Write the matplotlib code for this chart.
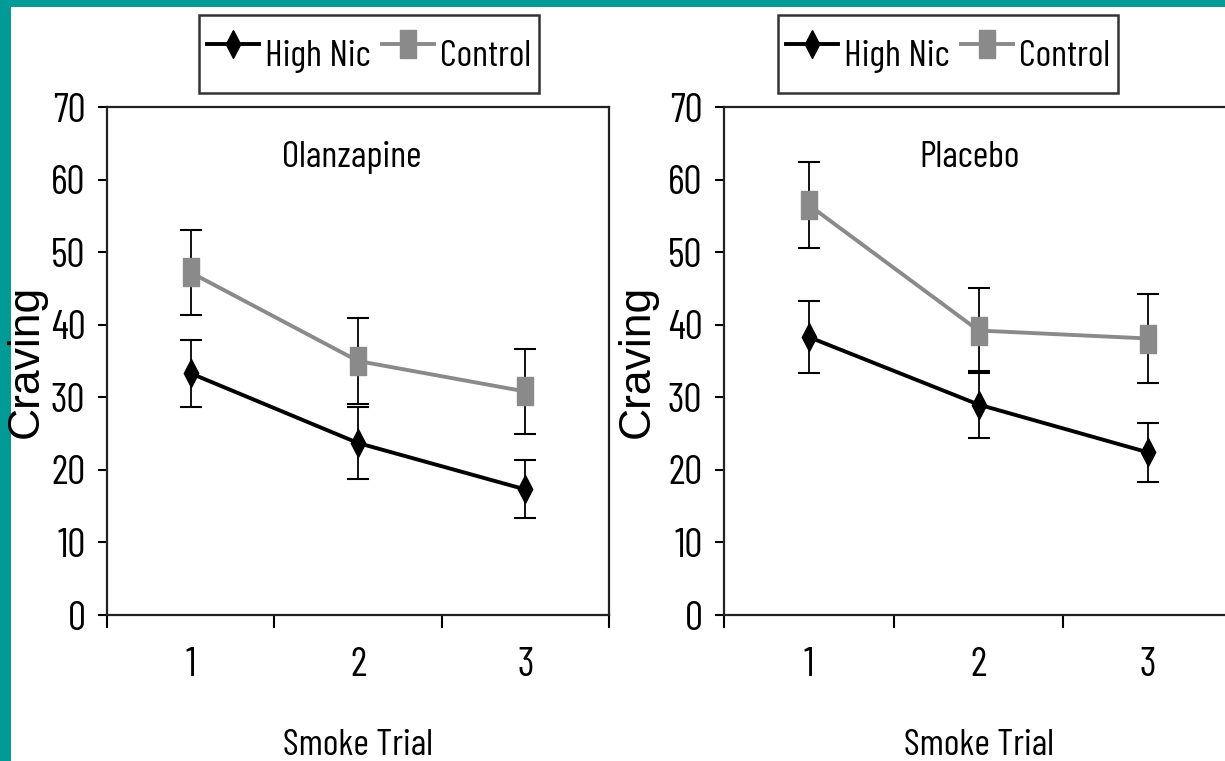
import matplotlib
matplotlib.use('Agg')
import matplotlib.pyplot as plt
from matplotlib.patches import Rectangle

trials = [1, 2, 3]

olz_high = [33.3, 23.7, 17.3]
olz_high_err = [4.6, 4.9, 4.0]
olz_ctrl = [47.2, 35.0, 30.8]
olz_ctrl_err = [5.9, 5.9, 5.9]

pla_high = [38.3, 29.0, 22.4]
pla_high_err = [5.0, 4.6, 4.1]
pla_ctrl = [56.5, 39.2, 38.1]
pla_ctrl_err = [5.9, 5.9, 6.1]

panels = ['Olanzapine', 'Placebo']
series = ['High Nic', 'Control']

# narrow font for most of the text, plain sans for the y label
plt.rcParams['font.family'] = ['Barlow Condensed', 'Liberation Sans', 'DejaVu Sans']

# tall diamond and tall square, like in the source picture
diamond = [(0, 1), (0.52, 0), (0, -1), (-0.52, 0), (0, 1)]
square = [(-0.55, -1), (0.55, -1), (0.55, 1), (-0.55, 1), (-0.55, -1)]

W, H = 1225, 761
fig = plt.figure(figsize=(W / 100, H / 100), dpi=100)
fig.patch.set_facecolor('#009b97')
fig.patches.append(Rectangle((11 / W, 0), 1, 1 - 7 / H, transform=fig.transFigure,
                             facecolor='white', edgecolor='none', zorder=-1))

boxes = [(107, 502), (724, 509)]
data = [(olz_high, olz_high_err, olz_ctrl, olz_ctrl_err),
        (pla_high, pla_high_err, pla_ctrl, pla_ctrl_err)]
title_x = [0.488, 0.483]
ylab_x = [-0.12, -0.13]
leg_x = [369, 948]

for i in range(2):
    x0, w = boxes[i]
    ax = fig.add_axes([x0 / W, (H - 615) / H, w / W, 508 / H])
    high, high_err, ctrl, ctrl_err = data[i]

    ax.errorbar(trials, ctrl, yerr=ctrl_err, fmt='none', ecolor='black',
                elinewidth=1.3, capsize=8, capthick=1.5, zorder=2)
    ax.errorbar(trials, high, yerr=high_err, fmt='none', ecolor='black',
                elinewidth=1.3, capsize=8, capthick=1.5, zorder=2)
    ax.plot(trials, ctrl, color='#8a8a8a', lw=2.8, marker=square, ms=20,
            mfc='#8a8a8a', mec='#8a8a8a', label=series[1], zorder=3)
    ax.plot(trials, high, color='black', lw=2.8, marker=diamond, ms=20,
            mfc='black', mec='black', label=series[0], zorder=4)

    ax.set_xlim(0.5, 3.5)
    ax.set_ylim(0, 70)
    ax.set_yticks(range(0, 71, 10))
    ax.set_xticks(trials)
    ax.set_xticks([0.5, 1.5, 2.5, 3.5], minor=True)
    ax.tick_params(axis='x', which='major', length=0, pad=23, labelsize=29)
    ax.tick_params(axis='x', which='minor', length=9, width=1.5, direction='out')
    ax.tick_params(axis='y', length=6.5, width=1.5, direction='out', pad=9, labelsize=29)
    for s in ax.spines.values():
        s.set_linewidth(1.6)
        s.set_color('#222222')

    ax.text(title_x[i], 0.90, panels[i], transform=ax.transAxes, ha='center',
            va='center', fontsize=27)
    ax.set_ylabel('Craving', fontsize=32, family=['Liberation Sans', 'DejaVu Sans'])
    ax.yaxis.set_label_coords(ylab_x[i], 0.5)
    ax.set_xlabel('Smoke Trial', fontsize=27)
    ax.xaxis.set_label_coords(0.5, -0.225)
    ax.xaxis.label.set_va('top')

    h, l = ax.get_legend_handles_labels()
    leg = fig.legend(h[::-1], l[::-1], loc='center', ncol=2,
                     bbox_to_anchor=(leg_x[i] / W, 1 - 54 / H), fontsize=27,
                     frameon=True, fancybox=False, handlelength=1.4,
                     handleheight=2.2, handletextpad=0.15, columnspacing=0.3,
                     borderpad=0.2, borderaxespad=0)
    leg.get_frame().set_edgecolor('black')
    leg.get_frame().set_linewidth(1.8)

fig.savefig('out.png', dpi=100, facecolor=fig.get_facecolor())
